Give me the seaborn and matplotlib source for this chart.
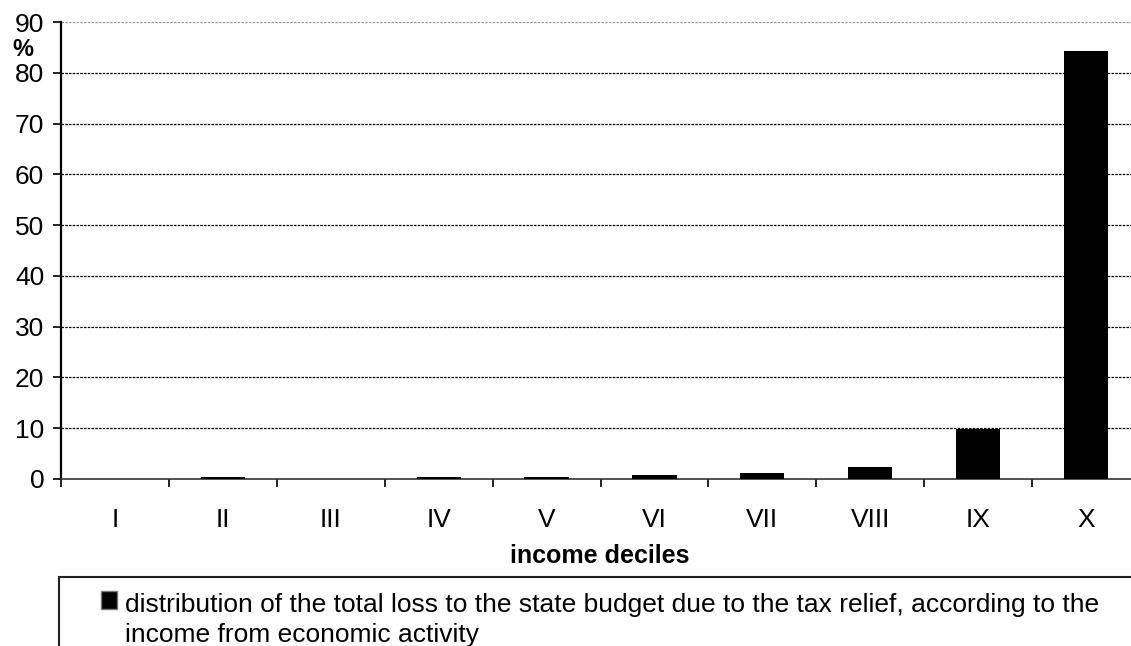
import matplotlib
matplotlib.use("Agg")
import matplotlib.pyplot as plt
import seaborn as sns
import pandas as pd
from matplotlib.patches import Rectangle
from matplotlib.container import BarContainer
from matplotlib.legend_handler import HandlerPatch, update_from_first_child

# --- data ---
deciles = ["I", "II", "III", "IV", "V", "VI", "VII", "VIII", "IX", "X"]
loss_share = [0.05, 0.3, 0.05, 0.3, 0.3, 0.7, 1.1, 2.3, 9.9, 84.3]
series_label = ("distribution of the total loss to the state budget due to the tax relief, according to the\n"
                "income from economic activity")

W, H = 1131, 646
FS = 19
sns.set_theme(style="white")
plt.rcParams["font.family"] = ["Liberation Sans", "DejaVu Sans"]
plt.rcParams.update({"text.color": "black", "xtick.color": "black",
                     "ytick.color": "black", "axes.labelcolor": "black"})

df = pd.DataFrame({"decile": deciles, "share": loss_share})

fig = plt.figure(figsize=(W / 100, H / 100), dpi=100)
# axes box in pixel terms: x 61..1140, y 22..479 (right end runs past the image)
ax = fig.add_axes([61 / W, 1 - 479 / H, (1140 - 61) / W, (479 - 22) / H])

sns.barplot(data=df, x="decile", y="share", color="black", saturation=1,
            width=0.41, linewidth=0, label=series_label, ax=ax, zorder=3)

ax.set_ylim(0, 90)
ax.set_xlim(-0.5, 9.5)
ax.set_yticks(range(0, 91, 10))
for v in range(10, 81, 10):
    ax.axhline(v, color="black", lw=0.9, ls=(0, (2, 1)), zorder=1)
ax.axhline(90, color="#999999", lw=0.9, ls=(0, (2, 1)), zorder=1)

for s in ["top", "right"]:
    ax.spines[s].set_visible(False)
ax.spines["left"].set_color("black")
ax.spines["left"].set_linewidth(1.6)
ax.spines["bottom"].set_color("#333333")
ax.spines["bottom"].set_linewidth(1.2)

ax.tick_params(axis="y", direction="out", length=6, width=1.2, color="black",
               labelsize=FS, pad=6, left=True)
ax.set_xticks([i - 0.5 for i in range(11)], minor=True)
ax.tick_params(axis="x", which="minor", direction="out", length=6, width=1.2,
               color="black", bottom=True)
ax.tick_params(axis="x", which="major", length=0, labelsize=FS, pad=21)
ax.set_xlabel("")
ax.set_ylabel("")

fig.text(23 / W, 1 - 49 / H, "%", fontsize=17, fontweight="bold", ha="center", va="center")
fig.text(600 / W, 1 - 556 / H, "income deciles", fontsize=18, fontweight="bold",
         ha="center", va="center")


def first_line_box(legend, orig_handle, xdescent, ydescent, width, height, fontsize):
    # keep the key square beside the first line of the two-line label
    return Rectangle((-xdescent, -ydescent + 0.75 * fontsize), width, height)


# legend box (runs off the right and bottom edges like the original)
fig.patches.append(Rectangle((59 / W, -0.05), (1160 - 59) / W, 1 - 577 / H + 0.05,
                             transform=fig.transFigure, fill=False,
                             edgecolor="#222222", lw=1.5))
leg = ax.legend(loc="upper left", bbox_to_anchor=(101 / W, 1 - 593 / H),
                bbox_transform=fig.transFigure, frameon=False, fontsize=FS,
                handlelength=0.6, handleheight=0.65, handletextpad=0.3,
                borderaxespad=0, borderpad=0,
                handler_map={BarContainer: HandlerPatch(patch_func=first_line_box,
                                                        update_func=update_from_first_child)})
for t in leg.get_texts():
    t.set_linespacing(1.3)
for h in leg.legend_handles:
    h.set_facecolor("black")
    h.set_edgecolor("#777777")
    h.set_linewidth(1)

fig.savefig("out.png", dpi=100)
